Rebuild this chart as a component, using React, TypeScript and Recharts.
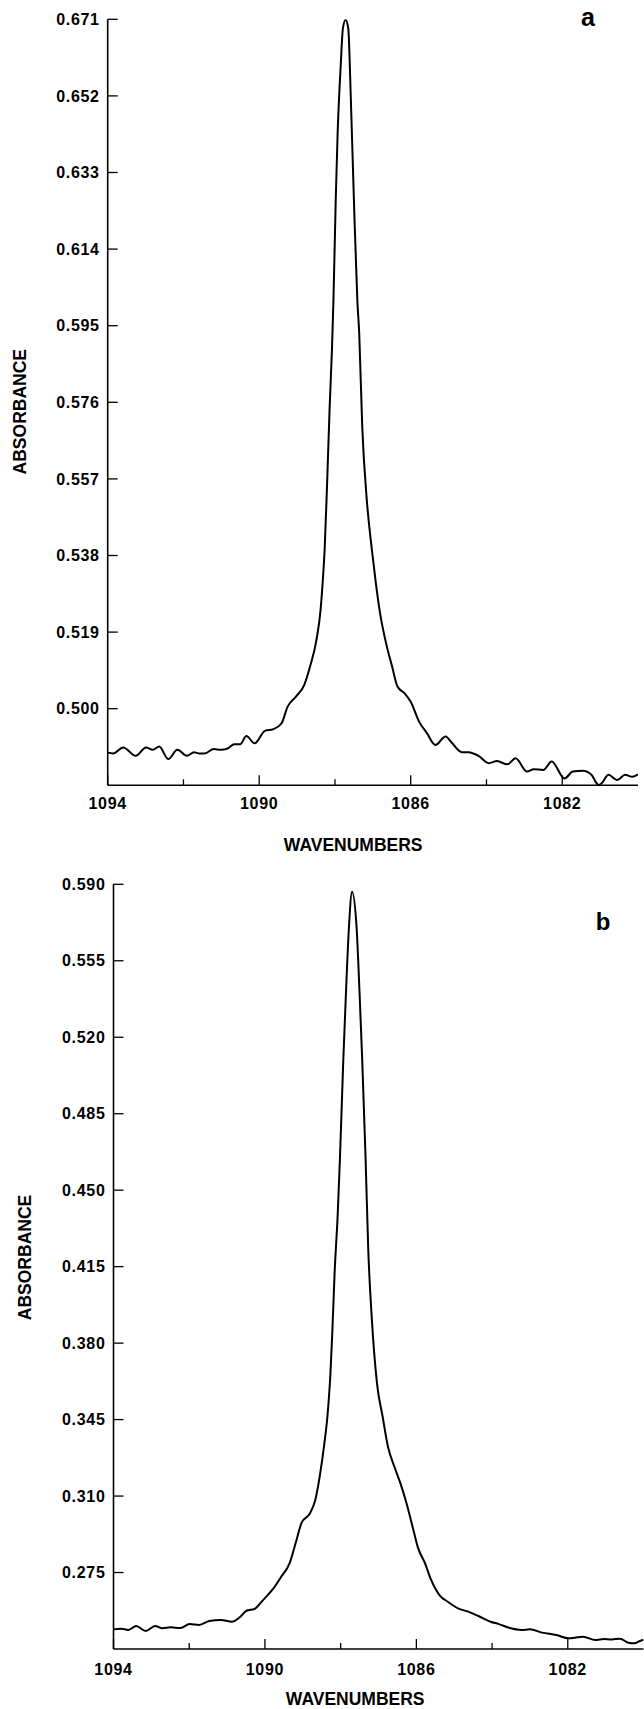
import React from "react";
import { LineChart, Line, XAxis, YAxis } from "recharts";

// ---- Spectrum a ----
const waveA = [
  1094.0, 1093.86, 1093.59, 1093.26, 1092.99, 1092.81, 1092.64, 1092.4, 1092.16, 1091.91,
  1091.72, 1091.58, 1091.44, 1091.2, 1091.02, 1090.82, 1090.66, 1090.5, 1090.34, 1090.12,
  1089.85, 1089.63, 1089.41, 1089.25, 1089.03, 1088.81, 1088.66, 1088.49, 1088.38, 1088.32,
  1088.27, 1088.2, 1088.14, 1088.08, 1088.04, 1087.98, 1087.93, 1087.85, 1087.79, 1087.72,
  1087.65, 1087.58, 1087.5, 1087.41, 1087.36, 1087.28, 1087.16, 1087.03, 1086.92, 1086.81,
  1086.65, 1086.49, 1086.35, 1086.16, 1086.0, 1085.78, 1085.57, 1085.35, 1085.08, 1084.92,
  1084.65, 1084.48, 1084.21, 1083.94, 1083.72, 1083.45, 1083.23, 1082.93, 1082.75, 1082.5,
  1082.28, 1081.94, 1081.72, 1081.45, 1081.23, 1081.04, 1080.96, 1080.78, 1080.55, 1080.34,
  1080.15, 1080.0,
];
const absA = [
  0.4891, 0.4889, 0.4904, 0.4883, 0.4904, 0.4898, 0.4906, 0.4875, 0.4898, 0.4883,
  0.4892, 0.4889, 0.4889, 0.49, 0.4898, 0.4902, 0.4912, 0.4912, 0.4932, 0.4914,
  0.4945, 0.4949, 0.4964, 0.5005, 0.503, 0.5059, 0.5104, 0.517, 0.5245, 0.532,
  0.54, 0.558, 0.5749, 0.589, 0.6014, 0.6262, 0.6427, 0.6592, 0.6688, 0.6708,
  0.6688, 0.651, 0.6262, 0.6014, 0.5931, 0.5699, 0.5518, 0.5398, 0.5311, 0.5237,
  0.5162, 0.5104, 0.5055, 0.5038, 0.5017, 0.4968, 0.4939, 0.491, 0.4931, 0.4916,
  0.4892, 0.4892, 0.4883, 0.4865, 0.487, 0.4862, 0.4877, 0.4844, 0.485, 0.4848,
  0.4869, 0.4827, 0.4844, 0.4846, 0.4836, 0.4811, 0.4815, 0.4836, 0.4823, 0.4836,
  0.4831, 0.4837,
];
const yTicksA = [0.5, 0.519, 0.538, 0.557, 0.576, 0.595, 0.614, 0.633, 0.652, 0.671];
const yDomainA = [0.481, 0.671];

// ---- Spectrum b ----
const waveB = [
  1094.0, 1093.8, 1093.61, 1093.4, 1093.15, 1092.9, 1092.71, 1092.49, 1092.23, 1091.99,
  1091.74, 1091.47, 1091.17, 1090.87, 1090.65, 1090.49, 1090.27, 1090.05, 1089.78, 1089.57,
  1089.35, 1089.19, 1089.03, 1088.81, 1088.67, 1088.54, 1088.43, 1088.35, 1088.31, 1088.27,
  1088.22, 1088.16, 1088.08, 1088.02, 1087.93, 1087.86, 1087.78, 1087.7, 1087.58, 1087.5,
  1087.43, 1087.34, 1087.27, 1087.18, 1087.04, 1086.89, 1086.75, 1086.58, 1086.42,
  1086.26, 1086.1, 1085.96, 1085.77, 1085.61, 1085.39, 1085.17, 1084.9, 1084.63, 1084.36,
  1084.04, 1083.82, 1083.55, 1083.22, 1083.0, 1082.68, 1082.3, 1081.98, 1081.81, 1081.6,
  1081.27, 1081.05, 1080.84, 1080.62, 1080.4, 1080.24, 1080.08, 1080.0,
];
const absB = [
  0.249, 0.2493, 0.2487, 0.2505, 0.2482, 0.2505, 0.2495, 0.2499, 0.2496, 0.2514,
  0.251, 0.2528, 0.2533, 0.2525, 0.2548, 0.2575, 0.2584, 0.2624, 0.2676, 0.2731,
  0.2792, 0.2884, 0.2978, 0.3021, 0.3082, 0.3204, 0.3341, 0.3463, 0.355, 0.366,
  0.385, 0.412, 0.4379, 0.4638, 0.5096, 0.5401, 0.5706, 0.5866, 0.5706, 0.5401,
  0.5096, 0.4638, 0.4226, 0.3921, 0.3616, 0.3463, 0.3326, 0.3234, 0.3158,
  0.3067, 0.296, 0.2865, 0.2792, 0.2716, 0.2647, 0.2616, 0.2586, 0.2571, 0.2551,
  0.2525, 0.2514, 0.2497, 0.2487, 0.249, 0.2475, 0.2464, 0.2449, 0.2452, 0.2456,
  0.2441, 0.2446, 0.2444, 0.2447, 0.2429, 0.2426, 0.2438, 0.2441,
];
const yTicksB = [0.275, 0.31, 0.345, 0.38, 0.415, 0.45, 0.485, 0.52, 0.555, 0.59];
const yDomainB = [0.24, 0.59];

// ---- shared x axis ----
const xTicks = [1094, 1092, 1090, 1088, 1086, 1084, 1082];
const xLabels = [1094, 1090, 1086, 1082];
const xDomain = [1080, 1094];

const dataA = waveA.map((w, i) => ({ w, v: absA[i] }));
const dataB = waveB.map((w, i) => ({ w, v: absB[i] }));

const FONT = "'Liberation Sans', Arial, Helvetica, sans-serif";

const YTick = (props: any) => {
  const { x, y, payload } = props;
  return (
    <g>
      <line x1={x} x2={x + 10} y1={y} y2={y} stroke="#000" strokeWidth={1.3} />
      <text
        x={x - 8}
        y={y + 5.7}
        textAnchor="end"
        fontFamily={FONT}
        fontWeight="bold"
        fontSize={16}
        letterSpacing={0.7}
        fill="#000"
      >
        {Number(payload.value).toFixed(3)}
      </text>
    </g>
  );
};

const makeXTick = (labelDy: number) => (props: any) => {
  const { x, y, payload } = props;
  const major = xLabels.includes(payload.value);
  return (
    <g>
      <line x1={x} x2={x} y1={y} y2={y - (major ? 10 : 6)} stroke="#000" strokeWidth={1.3} />
      {major ? (
        <text
          x={x}
          y={y + labelDy}
          textAnchor="middle"
          fontFamily={FONT}
          fontWeight="bold"
          fontSize={16}
          letterSpacing={0.7}
          fill="#000"
        >
          {payload.value}
        </text>
      ) : null}
    </g>
  );
};

const Spectrum = (p: {
  data: any[];
  yDomain: number[];
  yTicks: number[];
  height: number;
  margin: any;
  labelDy: number;
}) => (
  <LineChart width={644} height={p.height} data={p.data} margin={p.margin}>
    <XAxis
      dataKey="w"
      type="number"
      domain={xDomain}
      reversed
      allowDataOverflow
      ticks={xTicks}
      interval={0}
      tickSize={0}
      tickMargin={0}
      height={30}
      axisLine={{ stroke: "#000", strokeWidth: 1.6 }}
      tickLine={false}
      tick={makeXTick(p.labelDy)}
    />
    <YAxis
      type="number"
      domain={p.yDomain}
      allowDataOverflow
      ticks={p.yTicks}
      interval={0}
      tickSize={0}
      tickMargin={0}
      width={60}
      axisLine={{ stroke: "#000", strokeWidth: 1.6 }}
      tickLine={false}
      tick={(tp: any) => <YTick {...tp} />}
    />
    <Line
      dataKey="v"
      type="monotone"
      stroke="#000"
      strokeWidth={2}
      dot={false}
      activeDot={false}
      isAnimationActive={false}
    />
  </LineChart>
);

export default function App() {
  const t = { fontFamily: FONT, fontWeight: "bold" as const, fill: "#000" };
  return (
    <div style={{ position: "absolute", left: 0, top: 0, width: 644, height: 1709, background: "#fff", overflow: "hidden" }}>
      <div style={{ position: "absolute", left: 0, top: 0 }}>
        <Spectrum
          data={dataA}
          yDomain={yDomainA}
          yTicks={yTicksA}
          height={860}
          margin={{ top: 19.3, right: 6, left: 47.7, bottom: 44.7 }}
          labelDy={24}
        />
      </div>
      <div style={{ position: "absolute", left: 0, top: 860 }}>
        <Spectrum
          data={dataB}
          yDomain={yDomainB}
          yTicks={yTicksB}
          height={849}
          margin={{ top: 24.3, right: 0.5, left: 53.5, bottom: 30 }}
          labelDy={26}
        />
      </div>
      <svg
        width={644}
        height={1709}
        style={{ position: "absolute", left: 0, top: 0, pointerEvents: "none" }}
      >
        <text x={588} y={26} textAnchor="middle" fontSize={25} {...t}>a</text>
        <text x={603} y={930} textAnchor="middle" fontSize={24} {...t}>b</text>
        <text
          x={20.1}
          y={411.7}
          textAnchor="middle"
          dominantBaseline="central"
          fontSize={17.5}
          transform="rotate(-90, 20.1, 411.7)"
          {...t}
        >
          ABSORBANCE
        </text>
        <text
          x={25.3}
          y={1257.5}
          textAnchor="middle"
          dominantBaseline="central"
          fontSize={17.5}
          transform="rotate(-90, 25.3, 1257.5)"
          {...t}
        >
          ABSORBANCE
        </text>
        <text x={353.2} y={850.7} textAnchor="middle" fontSize={17.5} {...t}>WAVENUMBERS</text>
        <text x={355.2} y={1705} textAnchor="middle" fontSize={17.5} {...t}>WAVENUMBERS</text>
      </svg>
    </div>
  );
}
